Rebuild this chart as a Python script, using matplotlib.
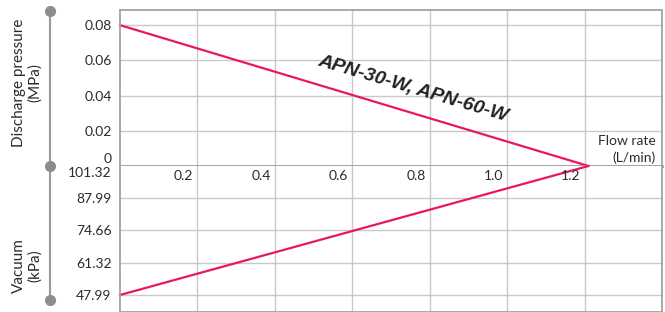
import matplotlib.pyplot as plt
from matplotlib.lines import Line2D

# data
flow = [0.0, 1.21]
discharge = [0.08, 0.0]        # MPa
vacuum = [47.99, 101.32]       # kPa
x_ticks = [0.2, 0.4, 0.6, 0.8, 1.0, 1.2]
p_ticks = [0.02, 0.04, 0.06, 0.08]
v_ticks = [47.99, 61.32, 74.66, 87.99]
label_text = "APN-30-W, APN-60-W"

plt.rcParams['font.family'] = ['Lato', 'DejaVu Sans']
txt = '#2b2b2b'
grid_c = '#c9c9c9'
line_c = '#e8185a'
frame_c = '#a3a3a3'
fs = 10

fig = plt.figure(figsize=(6.65, 3.12), dpi=100)
L, W = 120 / 665, 542 / 665
y0 = 1 - 166 / 312
ax_up = fig.add_axes([L, y0, W, (166 - 10) / 312])
ax_lo = fig.add_axes([L, 0, W, y0])

for ax in (ax_up, ax_lo):
    ax.set_xlim(0, 1.4)
    ax.set_xticks([0.2, 0.4, 0.6, 0.8, 1.0, 1.2])
    ax.tick_params(length=0, labelsize=fs, colors=txt, pad=6)
    ax.tick_params(axis='x', labelbottom=False)
    ax.grid(True, color=grid_c, lw=1)
    ax.set_axisbelow(True)
    for s in ax.spines.values():
        s.set_color(frame_c)
        s.set_linewidth(1.3)

ax_up.set_ylim(0, 0.0886)
ax_up.set_yticks(p_ticks)
ax_up.set_yticklabels(['0.02', '0.04', '0.06', '0.08'])
ax_up.spines['bottom'].set_linewidth(2)
ax_up.spines['bottom'].set_color('#9a9a9a')
ax_up.plot(flow, discharge, color=line_c, lw=1.6, clip_on=False)
ax_up.annotate('0', (0, 0), xytext=(-6, 1), textcoords='offset points',
               ha='right', va='bottom', fontsize=fs, color=txt, annotation_clip=False)
ax_up.text(0.758, 0.0437, label_text, rotation=-16.5, ha='center', va='center',
           fontsize=14, fontweight='bold', fontstyle='italic', color='#222222',
           family=['Liberation Sans', 'DejaVu Sans'])
ax_up.text(1.383, 0.001, "Flow rate\n(L/min)", ha='right', va='bottom',
           fontsize=fs, color=txt, multialignment='right', linespacing=1.45)

ax_lo.set_ylim(40.96, 101.32)
ax_lo.set_yticks(v_ticks)
ax_lo.set_yticklabels(['47.99', '61.32', '74.66', '87.99'])
ax_lo.spines['top'].set_visible(False)
ax_lo.plot(flow, vacuum, color=line_c, lw=1.6, clip_on=False)
ax_lo.annotate('101.32', (0, 101.32), xytext=(-6, -1), textcoords='offset points',
               ha='right', va='top', fontsize=fs, color=txt, annotation_clip=False)
for x in x_ticks:
    ax_lo.annotate(f"{x:.1f}", (x, 101.32), xytext=(-3, -3), textcoords='offset points',
                   ha='right', va='top', fontsize=fs, color=txt)

# left side bracket
lx = 50 / 665
ys = [1 - 11 / 312, y0, 1 - 300 / 312]
fig.add_artist(Line2D([lx, lx], [ys[0], ys[2]], color='#9a9a9a', lw=1.5,
                      transform=fig.transFigure))
for yy in ys:
    fig.add_artist(Line2D([lx], [yy], marker='o', ms=7, color='#8c8c8c',
                          transform=fig.transFigure))

fig.text(27 / 665, 1 - 83 / 312, "Discharge pressure\n(MPa)", rotation=90,
         ha='center', va='center', fontsize=11, color=txt, multialignment='center',
         linespacing=1.2)
fig.text(27 / 665, 1 - 266 / 312, "Vacuum\n(kPa)", rotation=90,
         ha='center', va='center', fontsize=11, color=txt, multialignment='center',
         linespacing=1.2)

fig.savefig('out.png', dpi=100)
